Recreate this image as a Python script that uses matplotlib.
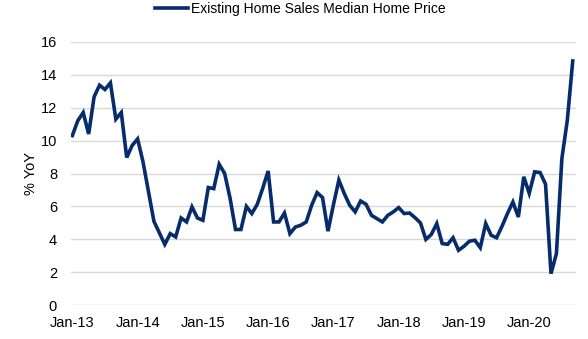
import matplotlib
matplotlib.use("Agg")
import matplotlib.pyplot as plt
import numpy as np

# Existing home sales, median home price, % YoY (monthly, Jan-13 .. Sep-20)
yoy_2013 = [10.3, 11.2, 11.7, 10.4, 12.65, 13.36, 13.1, 13.5, 11.3, 11.7, 8.97, 9.7]
yoy_2014 = [10.1, 8.7, 6.9, 5.1, 4.4, 3.7, 4.35, 4.15, 5.3, 5.06, 5.97, 5.3]
yoy_2015 = [5.16, 7.15, 7.08, 8.56, 8.0, 6.5, 4.6, 4.6, 6.0, 5.57, 6.13, 7.1]
yoy_2016 = [8.15, 5.06, 5.06, 5.6, 4.35, 4.75, 4.86, 5.06, 6.07, 6.84, 6.54, 4.5]
yoy_2017 = [6.1, 7.6, 6.78, 6.07, 5.67, 6.33, 6.13, 5.46, 5.26, 5.06, 5.46, 5.67]
yoy_2018 = [5.93, 5.57, 5.6, 5.32, 5.0, 4.0, 4.3, 4.96, 3.75, 3.7, 4.1, 3.34]
yoy_2019 = [3.58, 3.89, 3.95, 3.5, 4.96, 4.25, 4.1, 4.8, 5.57, 6.27, 5.36, 7.8]
yoy_2020 = [6.8, 8.1, 8.06, 7.35, 1.92, 3.14, 8.9, 11.23, 14.83]

year_labels = ["Jan-13", "Jan-14", "Jan-15", "Jan-16", "Jan-17", "Jan-18", "Jan-19", "Jan-20"]
y_ticks = [0, 2, 4, 6, 8, 10, 12, 14, 16]

values = (yoy_2013 + yoy_2014 + yoy_2015 + yoy_2016
          + yoy_2017 + yoy_2018 + yoy_2019 + yoy_2020)
months = np.arange(len(values))

plt.rcParams["font.family"] = ["Liberation Sans", "DejaVu Sans"]

NAVY = "#072c6c"
GRID = "#d9d9d9"

fig = plt.figure(figsize=(5.88, 3.39), dpi=100)
ax = fig.add_axes([0.1207, 0.0994, 0.8589, 0.7776])

ax.plot(months, values, color=NAVY, linewidth=2.6, solid_joinstyle="miter",
        label="Existing Home Sales Median Home Price")

ax.set_ylim(0, 16)
ax.set_yticks(y_ticks)
ax.set_xlim(-0.25, 92.6)
ax.set_xticks(np.arange(0, len(values), 12))
ax.set_xticklabels(year_labels)

ax.grid(axis="y", color=GRID, linewidth=1.0)
ax.set_axisbelow(True)
for s in ax.spines.values():
    s.set_visible(False)
ax.tick_params(length=0, labelsize=10.5)
ax.tick_params(axis="y", pad=10)
ax.tick_params(axis="x", pad=8)

ax.set_ylabel("% YoY", fontsize=10.5, labelpad=2)

fig.legend(loc="upper center", bbox_to_anchor=(0.51, 1.03), frameon=False,
           fontsize=10, handlelength=2.4, handletextpad=0.2)

fig.savefig("out.png", dpi=100)
